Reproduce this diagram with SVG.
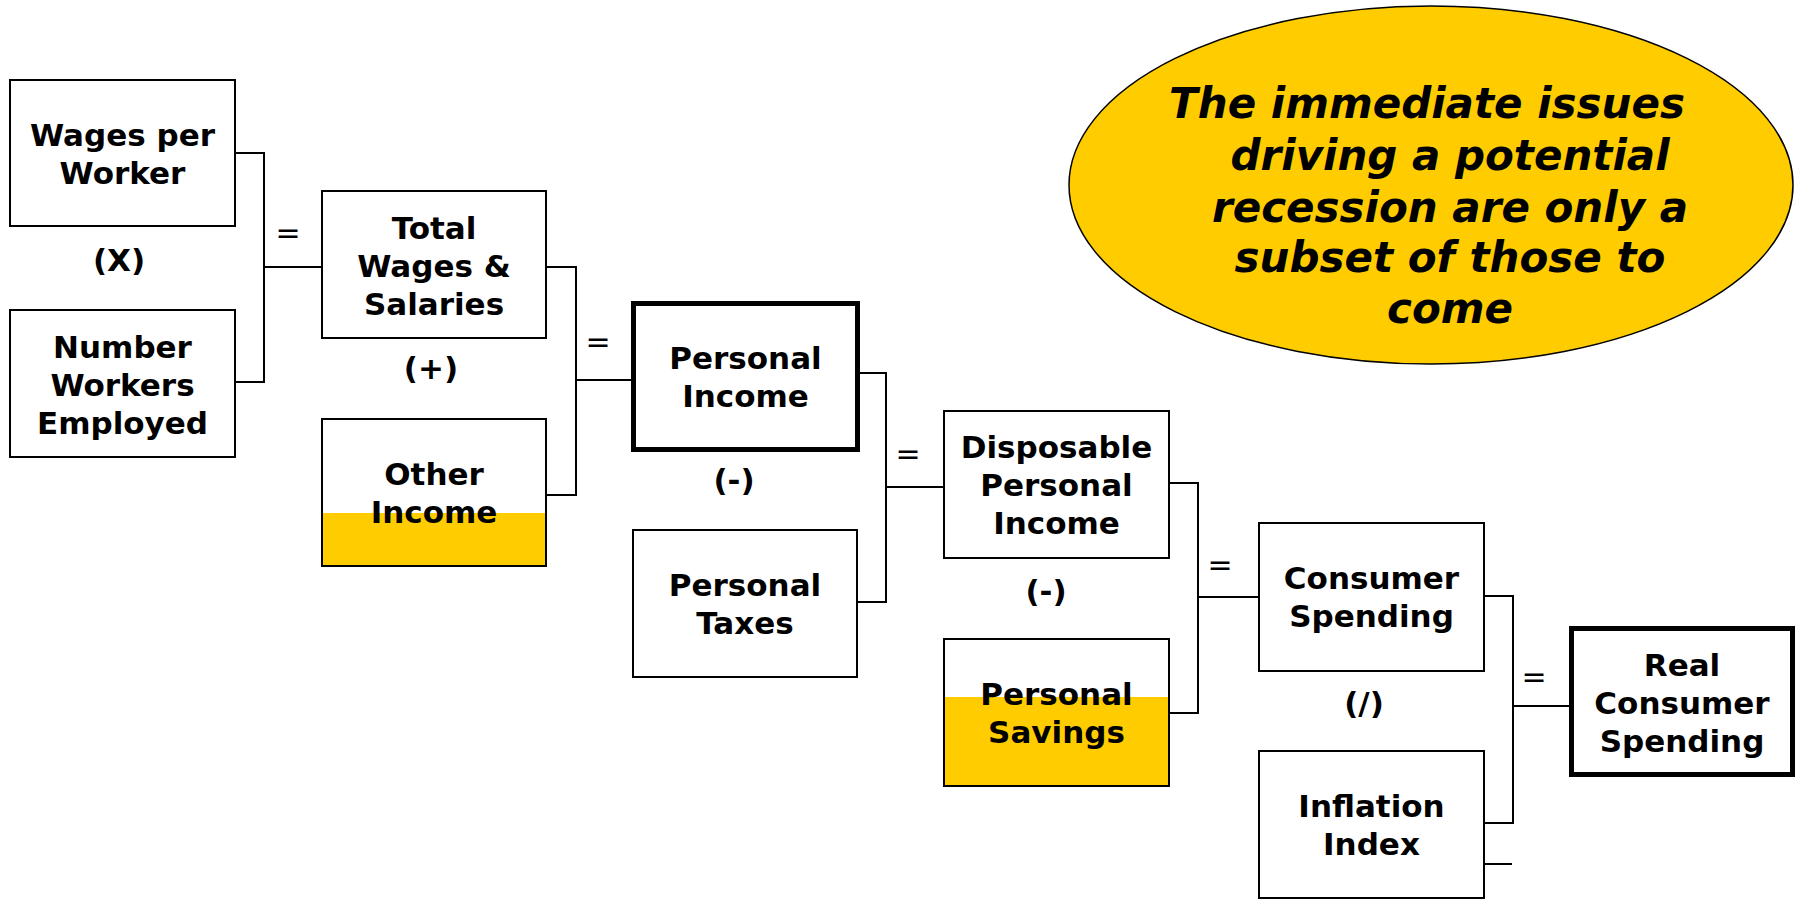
<svg xmlns="http://www.w3.org/2000/svg" width="1797" height="899" viewBox="0 0 1797 899">
  <style>
    .box { fill: #ffffff; stroke: #000000; stroke-width: 2; }
    .key { fill: none; stroke: #000000; stroke-width: 5; }
    .fill { fill: #ffcc00; stroke: none; }
    .lbl { font-family: "DejaVu Sans", Verdana, sans-serif; font-weight: bold; font-size: 31px; fill: #000000; text-anchor: middle; }
    .op { font-family: "DejaVu Sans", Verdana, sans-serif; font-weight: bold; font-size: 31px; fill: #000000; text-anchor: middle; }
    .eq { font-family: "DejaVu Sans", Verdana, sans-serif; font-size: 30px; fill: #000000; text-anchor: middle; }
    .wire { fill: none; stroke: #000000; stroke-width: 2; }
    .note { font-family: "DejaVu Sans", Verdana, sans-serif; font-weight: bold; font-style: italic; font-size: 42px; fill: #000000; text-anchor: middle; }
  </style>

  <rect width="1797" height="899" fill="#ffffff"/>

  <!-- connectors -->
  <g id="connectors">
    <path class="wire" d="M235 153 H264 V382 H235 M264 267 H322"/>
    <path class="wire" d="M546 267 H576 V495 H546 M576 380 H631"/>
    <path class="wire" d="M860 373 H886 V602 H857 M886 487 H944"/>
    <path class="wire" d="M1169 483 H1198 V713 H1169 M1198 597 H1259"/>
    <path class="wire" d="M1484 596 H1513 V823 H1484 M1513 706 H1569"/>
    <path class="wire" d="M1484 864 H1512"/>
    <text class="eq" x="288" y="243">=</text>
    <text class="eq" x="598" y="352">=</text>
    <text class="eq" x="908" y="464">=</text>
    <text class="eq" x="1220" y="575">=</text>
    <text class="eq" x="1534" y="687">=</text>
    <text class="op" x="119" y="271">(X)</text>
    <text class="op" x="431" y="379">(+)</text>
    <text class="op" x="734" y="491">(-)</text>
    <text class="op" x="1046" y="602">(-)</text>
    <text class="op" x="1364" y="714">(/)</text>
  </g>

  <g id="wages-per-worker">
    <rect class="box" x="10" y="80" width="225" height="146"/>
    <text class="lbl" x="122.5" y="146">Wages per<tspan x="122.5" dy="38">Worker</tspan></text>
  </g>

  <g id="number-workers-employed">
    <rect class="box" x="10" y="310" width="225" height="147"/>
    <text class="lbl" x="122.5" y="358">Number<tspan x="122.5" dy="38">Workers</tspan><tspan x="122.5" dy="38">Employed</tspan></text>
  </g>

  <g id="total-wages-salaries">
    <rect class="box" x="322" y="191" width="224" height="147"/>
    <text class="lbl" x="434" y="239">Total<tspan x="434" dy="38">Wages &amp;</tspan><tspan x="434" dy="38">Salaries</tspan></text>
  </g>

  <g id="other-income">
    <rect class="box" x="322" y="419" width="224" height="147"/>
    <rect class="fill" x="323" y="513" width="222" height="52"/>
    <text class="lbl" x="434" y="485">Other<tspan x="434" dy="38">Income</tspan></text>
  </g>

  <g id="personal-income">
    <rect class="key" x="633.5" y="303.5" width="224" height="146"/>
    <text class="lbl" x="745.5" y="369">Personal<tspan x="745.5" dy="38">Income</tspan></text>
  </g>

  <g id="personal-taxes">
    <rect class="box" x="633" y="530" width="224" height="147"/>
    <text class="lbl" x="745" y="596">Personal<tspan x="745" dy="38">Taxes</tspan></text>
  </g>

  <g id="disposable-personal-income">
    <rect class="box" x="944" y="411" width="225" height="147"/>
    <text class="lbl" x="1056.5" y="458">Disposable<tspan x="1056.5" dy="38">Personal</tspan><tspan x="1056.5" dy="38">Income</tspan></text>
  </g>

  <g id="personal-savings">
    <rect class="box" x="944" y="639" width="225" height="147"/>
    <rect class="fill" x="945" y="697" width="223" height="88"/>
    <text class="lbl" x="1056.5" y="705">Personal<tspan x="1056.5" dy="38">Savings</tspan></text>
  </g>

  <g id="consumer-spending">
    <rect class="box" x="1259" y="523" width="225" height="148"/>
    <text class="lbl" x="1371.5" y="589">Consumer<tspan x="1371.5" dy="38">Spending</tspan></text>
  </g>

  <g id="inflation-index">
    <rect class="box" x="1259" y="751" width="225" height="147"/>
    <text class="lbl" x="1371.5" y="817">Inflation<tspan x="1371.5" dy="38">Index</tspan></text>
  </g>

  <g id="real-consumer-spending">
    <rect class="key" x="1571.5" y="628.5" width="221" height="146"/>
    <text class="lbl" x="1682" y="676">Real<tspan x="1682" dy="38">Consumer</tspan><tspan x="1682" dy="38">Spending</tspan></text>
  </g>

  <g id="callout">
    <ellipse cx="1431" cy="185" rx="362" ry="179" fill="#ffcc00" stroke="#000000" stroke-width="1.5"/>
    <text class="note" x="1427" y="118">The immediate issues</text>
    <text class="note" x="1450" y="170">driving a potential</text>
    <text class="note" x="1450" y="222">recession are only a</text>
    <text class="note" x="1450" y="272">subset of those to</text>
    <text class="note" x="1450" y="323">come</text>
  </g>
</svg>
